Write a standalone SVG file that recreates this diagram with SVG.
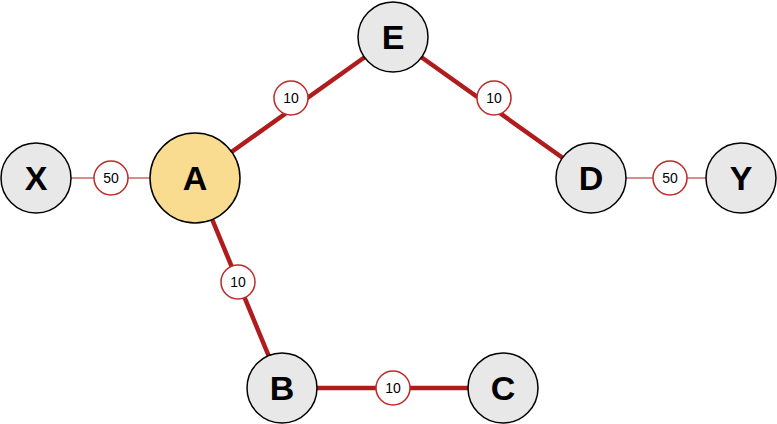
<svg xmlns="http://www.w3.org/2000/svg" width="777" height="424" viewBox="0 0 777 424">
<style>
.n{fill:#e8e8e8;stroke:#000;stroke-width:1.5}
.t{font-family:"Liberation Sans",Arial,sans-serif;font-weight:bold;font-size:34px;text-anchor:middle;dominant-baseline:central;fill:#000}
.lc{fill:#fff;stroke:#c0282a;stroke-width:1.5}
.lt{font-family:"Liberation Sans",Arial,sans-serif;font-size:14px;text-anchor:middle;dominant-baseline:central;fill:#000}
.thick{stroke:#b01c1c;stroke-width:4.5;fill:none}
.thin{stroke:#b01c1c;stroke-width:1.2;fill:none}
</style>
<g id="connectors">
<line class="thick" x1="195" y1="178" x2="393" y2="37"/>
<line class="thick" x1="393" y1="37" x2="591" y2="178"/>
<line class="thick" x1="195" y1="178" x2="282" y2="388"/>
<line class="thick" x1="282" y1="388" x2="503" y2="388"/>
<line class="thin" x1="36" y1="178" x2="195" y2="178"/>
<line class="thin" x1="591" y1="178" x2="741" y2="178"/>
</g>
<g id="labels">
<circle class="lc" cx="291" cy="98" r="17"/><text class="lt" x="291" y="98">10</text>
<circle class="lc" cx="494" cy="98" r="17"/><text class="lt" x="494" y="98">10</text>
<circle class="lc" cx="111" cy="178" r="17"/><text class="lt" x="111" y="178">50</text>
<circle class="lc" cx="670" cy="178" r="17"/><text class="lt" x="670" y="178">50</text>
<circle class="lc" cx="238" cy="282" r="17"/><text class="lt" x="238" y="282">10</text>
<circle class="lc" cx="393" cy="388" r="17"/><text class="lt" x="393" y="388">10</text>
</g>
<g id="X"><circle class="n" cx="36" cy="178" r="35"/><text class="t" x="36" y="178">X</text></g>
<g id="A"><circle class="n" style="fill:#f9dc8f" cx="195" cy="178" r="45"/><text class="t" x="195" y="178">A</text></g>
<g id="E"><circle class="n" cx="393" cy="37" r="35"/><text class="t" x="393" y="37">E</text></g>
<g id="D"><circle class="n" cx="591" cy="178" r="35"/><text class="t" x="591" y="178">D</text></g>
<g id="Y"><circle class="n" cx="741" cy="178" r="35"/><text class="t" x="741" y="178">Y</text></g>
<g id="B"><circle class="n" cx="282" cy="388" r="35"/><text class="t" x="282" y="388">B</text></g>
<g id="C"><circle class="n" cx="503" cy="388" r="35"/><text class="t" x="503" y="388">C</text></g>
</svg>
